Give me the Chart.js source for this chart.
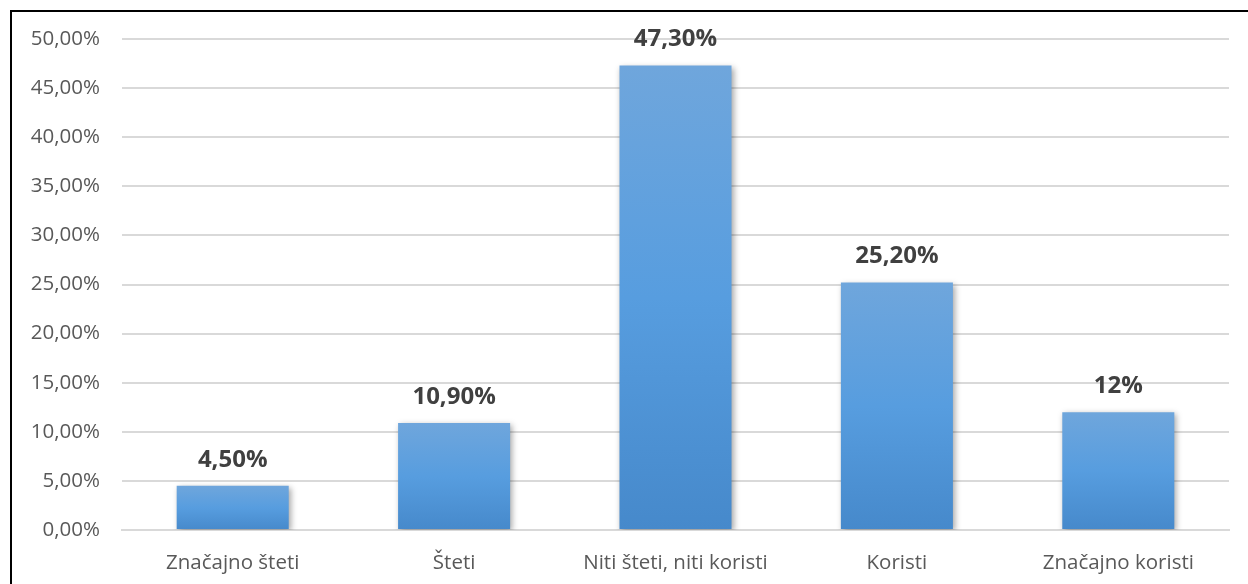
<!DOCTYPE html>
<html>
<head>
<meta charset="utf-8">
<script src="https://cdn.jsdelivr.net/npm/chart.js@4/dist/chart.umd.min.js"></script>
<style>
  html, body { margin: 0; padding: 0; background: #fff; overflow: hidden; }
  canvas { display: block; }
</style>
</head>
<body>
<canvas id="chart" width="1248" height="584"></canvas>
<script>
// data
const categories = ["Značajno šteti", "Šteti", "Niti šteti, niti koristi", "Koristi", "Značajno koristi"];
const values = [4.5, 10.9, 47.3, 25.2, 12];
const valueLabels = ["4,50%", "10,90%", "47,30%", "25,20%", "12%"];
const yTickLabels = ["0,00%", "5,00%", "10,00%", "15,00%", "20,00%", "25,00%", "30,00%", "35,00%", "40,00%", "45,00%", "50,00%"];

const fontFamily = "'Open Sans', 'Liberation Sans', sans-serif";

// gradient per bar, from its top down to the zero line
function barGradient(context) {
  const chart = context.chart;
  const y = chart.scales.y;
  if (!y || context.dataIndex === undefined) return "#5b9bd5";
  const top = y.getPixelForValue(values[context.dataIndex]);
  const bottom = y.getPixelForValue(0);
  if (!isFinite(top) || !isFinite(bottom) || top === bottom) return "#5b9bd5";
  const g = chart.ctx.createLinearGradient(0, top, 0, bottom);
  g.addColorStop(0, "#6fa6dc");
  g.addColorStop(0.5, "#579ddf");
  g.addColorStop(1, "#4689cb");
  return g;
}

// the black frame of the chart object, only its left and top edges are in view
const frame = {
  id: "frame",
  afterDraw(chart) {
    const ctx = chart.ctx;
    ctx.save();
    ctx.strokeStyle = "#000";
    ctx.lineWidth = 2;
    ctx.beginPath();
    ctx.moveTo(11, chart.height);
    ctx.lineTo(11, 11);
    ctx.lineTo(chart.width, 11);
    ctx.stroke();
    ctx.restore();
  }
};

const barShadow = {
  id: "barShadow",
  beforeDatasetDraw(chart) {
    const ctx = chart.ctx;
    ctx.save();
    ctx.shadowColor = "rgba(0,0,0,0.35)";
    ctx.shadowBlur = 6;
    ctx.shadowOffsetX = 2;
    ctx.shadowOffsetY = 2;
  },
  afterDatasetDraw(chart) {
    chart.ctx.restore();
  }
};

const valueText = {
  id: "valueText",
  afterDatasetsDraw(chart) {
    const ctx = chart.ctx;
    const meta = chart.getDatasetMeta(0);
    ctx.save();
    ctx.fillStyle = "#404040";
    ctx.font = "bold 24px " + fontFamily;
    ctx.textAlign = "center";
    ctx.textBaseline = "middle";
    meta.data.forEach((bar, i) => {
      ctx.fillText(valueLabels[i], bar.x, bar.y - 26);
    });
    ctx.restore();
  }
};

new Chart(document.getElementById("chart"), {
  type: "bar",
  data: {
    labels: categories,
    datasets: [{
      data: values,
      backgroundColor: barGradient,
      borderWidth: 0,
      barPercentage: 0.506,
      categoryPercentage: 1
    }]
  },
  plugins: [barShadow, valueText, frame],
  options: {
    responsive: false,
    animation: false,
    layout: { padding: { top: 39, right: 19, left: 0, bottom: 0 } },
    plugins: { legend: { display: false }, tooltip: { enabled: false } },
    scales: {
      x: {
        grid: { display: false },
        border: { display: true, color: "#d9d9d9", width: 2 },
        ticks: { color: "#595959", font: { family: fontFamily, size: 20.5 }, padding: 13, maxRotation: 0 },
        afterFit(scale) { scale.height = 54; }
      },
      y: {
        min: 0,
        max: 50,
        ticks: {
          stepSize: 5,
          color: "#595959",
          font: { family: fontFamily, size: 20.5 },
          padding: 22,
          callback: (v, i) => yTickLabels[i]
        },
        grid: { color: "#d9d9d9", lineWidth: 2, drawTicks: false },
        border: { display: false },
        afterFit(scale) { scale.width = 122; }
      }
    }
  }
});
</script>
</body>
</html>
